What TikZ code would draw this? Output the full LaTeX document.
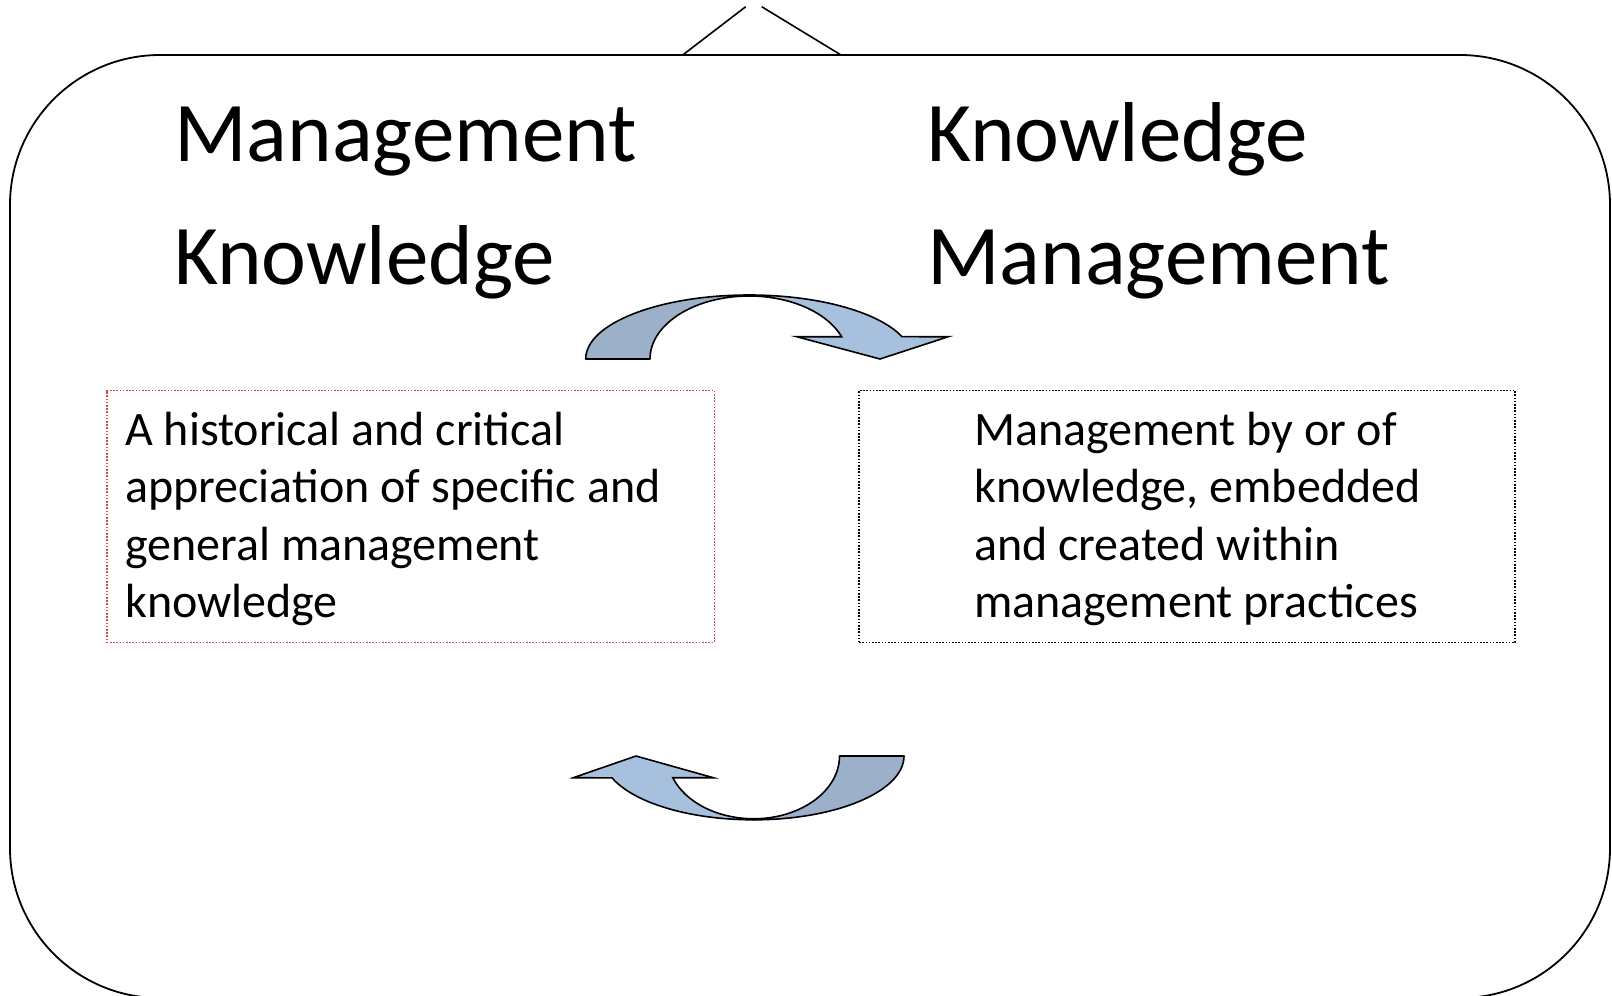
\documentclass[tikz,border=0pt]{standalone}
\usepackage{fontspec}
\setmainfont{Carlito}
\definecolor{arrowlight}{RGB}{167,192,222}
\definecolor{arrowdark}{RGB}{157,176,201}
\definecolor{dotred}{RGB}{205,75,75}
\tikzset{
  frame/.style={draw=black, line width=1.8pt, rounded corners=150pt},
  notch/.style={draw=black, line width=1.6pt},
  title/.style={inner sep=0pt, anchor=base west, font=\fontsize{85}{120.3}\selectfont},
  body/.style={inner sep=0pt, anchor=base west, align=left, font=\fontsize{48}{57.6}\selectfont},
  redbox/.style={draw=dotred, line width=1.8pt, dash pattern=on 1.6pt off 1.6pt, anchor=north west, inner sep=0pt},
  blackbox/.style={draw=black, line width=1.8pt, dash pattern=on 1.6pt off 1.6pt, anchor=north west, inner sep=0pt},
  backpart/.style={fill=arrowdark, draw=black, line width=1.6pt, line join=round},
  frontpart/.style={fill=arrowlight, draw=black, line width=1.6pt, line join=miter},
}
\begin{document}
\begin{tikzpicture}[x=1pt, y=-1pt]
\clip (0,0) rectangle (1612,996);
\fill[white] (0,0) rectangle (1612,996);
% outer frame
\draw[frame] (10,55) rectangle (1610,998);
% notch
\coordinate (nl1) at (682.7,55);
\coordinate (nl2) at (745.7,6.7);
\coordinate (nr1) at (761.7,6.7);
\coordinate (nr2) at (841,55);
\draw[notch] (nl1) -- (nl2);
\draw[notch] (nr1) -- (nr2);
% titles
\node[title] (mk1) at (174,161.5) {Management};
\node[title] (mk2) at (174,284) {Knowledge};
\node[title] (km1) at (927,161.5) {Knowledge};
\node[title] (km2) at (927,284) {Management};
% boxes
\node[redbox, minimum width=607.6pt, minimum height=251.9pt] (lbox) at (105.9,389.6) {};
\node[blackbox, minimum width=656pt, minimum height=251.9pt] (rbox) at (858.3,389.6) {};
% body texts (anchor = baseline of last line)
\node[body] (ltext) at (125,617.8) {A historical and critical\\appreciation of specific and\\general management\\knowledge};
\node[body] (rtext) at (974,617.8) {Management by or of\\knowledge, embedded\\and created within\\management practices};
% top curved arrow (centre 749,359)
\draw[backpart] (585.7,359) arc[start angle=180, end angle=270, x radius=163.3, y radius=64]
  -- (749,296) arc[start angle=270, end angle=180, x radius=99, y radius=63] -- cycle;
\draw[frontpart] (749,295) arc[start angle=270, end angle=339.6, x radius=163.3, y radius=64]
  -- (948.3,336.7) -- (880,359) -- (796.7,336.7) -- (841.6,336.7)
  arc[start angle=339.3, end angle=270, x radius=99, y radius=63] -- cycle;
% bottom curved arrow (centre 753.5,756)
\draw[backpart] (904,756) arc[start angle=0, end angle=90, x radius=150.5, y radius=63.8]
  -- (753.5,818.8) arc[start angle=90, end angle=0, x radius=86, y radius=62.8] -- cycle;
\draw[frontpart] (753.5,819.8) arc[start angle=90, end angle=159.95, x radius=150.5, y radius=63.8]
  -- (573.3,777.7) -- (636,756) -- (713.3,777.7) -- (672.8,777.7)
  arc[start angle=159.7, end angle=90, x radius=86, y radius=62.8] -- cycle;
\end{tikzpicture}
\end{document}
